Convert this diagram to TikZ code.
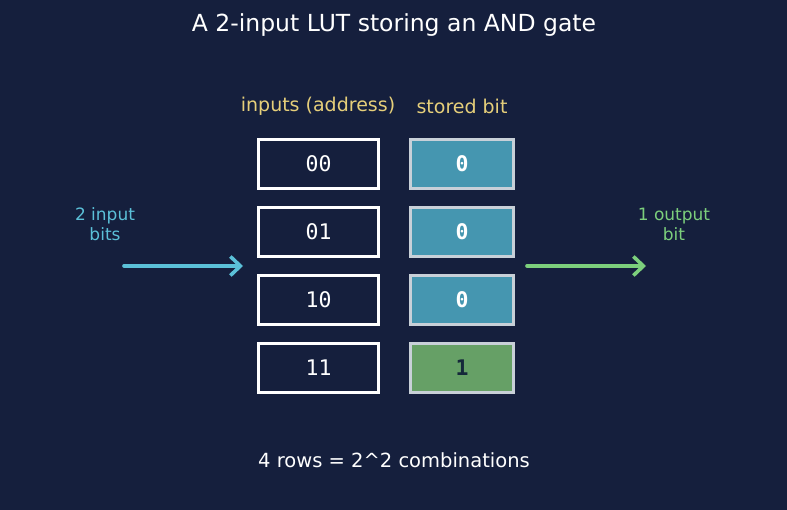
\documentclass[tikz,border=0pt]{standalone}
\usepackage{fontspec}
\setmainfont{DejaVu Sans}
\setmonofont{DejaVu Sans Mono}
\definecolor{lutbg}{HTML}{151F3D}
\definecolor{lutblue}{HTML}{4596B0}
\definecolor{lutgreen}{HTML}{66A066}
\definecolor{lutedge}{HTML}{C8D0D8}
\definecolor{lutgold}{HTML}{E6CF7A}
\definecolor{lutcyan}{HTML}{5BC0D8}
\definecolor{lutlime}{HTML}{7CCF7C}
\definecolor{lutink}{HTML}{15283A}
\usetikzlibrary{arrows.meta}

\begin{document}
\begin{tikzpicture}[x=1pt,y=-1pt,
  addr/.style={draw=white,line width=3pt,fill=lutbg,minimum width=120pt,
    minimum height=49pt,inner sep=0pt,font=\ttfamily\fontsize{21.5}{25}\selectfont,text=white},
  bitbox/.style={draw=lutedge,line width=2.6pt,fill=lutblue,minimum width=103pt,
    minimum height=49pt,inner sep=0pt,font=\ttfamily\bfseries\fontsize{21.5}{25}\selectfont,text=white},
  head/.style={font=\fontsize{19}{22}\selectfont,text=lutgold},
  side/.style={font=\fontsize{17}{20}\selectfont,align=center},
  flow/.style={-{Straight Barb[length=10pt,width=19pt,line width=3.6pt]},line width=3.6pt,line cap=round}]
  \fill[lutbg] (0,0) rectangle (787,510);
  \useasboundingbox (0,0) rectangle (787,510);
  \node[font=\fontsize{23.5}{27}\selectfont,text=white] (title) at (394,25) {A 2-input LUT storing an AND gate};
  \node[head] (hin)  at (318,106) {inputs (address)};
  \node[head] (hbit) at (462,106) {stored bit};
  % address column and stored bits
  \foreach \a/\b/\y in {00/0/164,01/0/232,10/0/300} {
    \node[addr]   (a\a) at (318.5,\y) {\a};
    \node[bitbox] (b\a) at (462,\y)   {\b};
  }
  \node[addr] (a11) at (318.5,368) {11};
  \node[bitbox,fill=lutgreen,text=lutink] (b11) at (462,368) {1};
  % inputs and output
  \node[side,text=lutcyan] (lin)  at (105,224) {2 input\\bits};
  \node[side,text=lutlime] (lout) at (674,224) {1 output\\bit};
  \coordinate (inA)  at (124,266);
  \coordinate (inB)  at (243,266);
  \coordinate (outA) at (527,266);
  \coordinate (outB) at (646,266);
  \draw[flow,lutcyan] (inA) -- (inB);
  \draw[flow,lutlime] (outA) -- (outB);
  \node[font=\fontsize{19.5}{23}\selectfont,text=white] (note) at (394,460) {4 rows = 2\^{}2 combinations};
\end{tikzpicture}
\end{document}
